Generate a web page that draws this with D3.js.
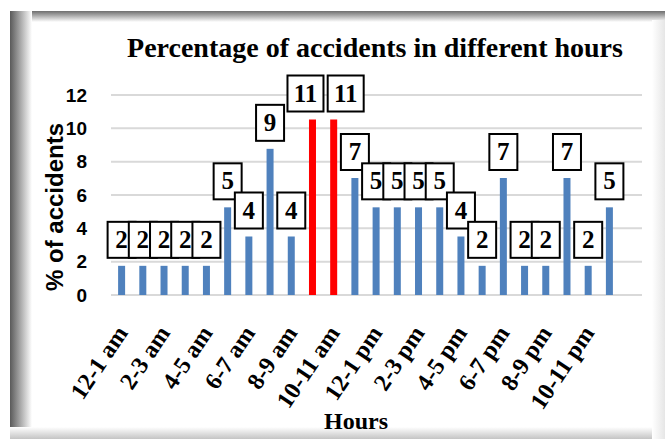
<!DOCTYPE html>
<html>
<head>
<meta charset="utf-8">
<script src="https://cdn.jsdelivr.net/npm/d3@7"></script>
<style>
  body { margin: 0; background: #fff; }
  svg { display: block; }
</style>
</head>
<body>
<div id="chart"></div>
<script>
var svgWidth = 665;
var svgHeight = 439;

// data
var hours = ["12-1 am", "1-2 am", "2-3 am", "3-4 am", "4-5 am", "5-6 am",
  "6-7 am", "7-8 am", "8-9 am", "9-10 am", "10-11 am", "11-12 am",
  "12-1 pm", "1-2 pm", "2-3 pm", "3-4 pm", "4-5 pm", "5-6 pm",
  "6-7 pm", "7-8 pm", "8-9 pm", "9-10 pm", "10-11 pm", "11-12 pm"];
var percents = [1.75, 1.75, 1.75, 1.75, 1.75, 5.26, 3.51, 8.77, 3.51, 10.53,
  10.53, 7.02, 5.26, 5.26, 5.26, 5.26, 3.51, 1.75, 7.02, 1.75, 1.75, 7.02, 1.75, 5.26];
var valueLabels = ["2", "2", "2", "2", "2", "5", "4", "9", "4", "11",
  "11", "7", "5", "5", "5", "5", "4", "2", "7", "2", "2", "7", "2", "5"];
var peakHours = ["9-10 am", "10-11 am"];
var yTicks = [0, 2, 4, 6, 8, 10, 12];

var margin = { top: 95, right: 23, bottom: 144, left: 111 };
var plotRight = svgWidth - margin.right;
var height = svgHeight - margin.top - margin.bottom;

var serif = "'Liberation Serif', 'Times New Roman', serif";
var sans = "'Liberation Sans', Arial, sans-serif";

var svg = d3.select("#chart")
  .append("svg")
  .attr("width", svgWidth)
  .attr("height", svgHeight);

// frame with soft shadow edges
var defs = svg.append("defs");
function grad(id, x2, y2, c1, c2) {
  var g = defs.append("linearGradient").attr("id", id)
    .attr("x1", 0).attr("y1", 0).attr("x2", x2).attr("y2", y2);
  g.append("stop").attr("offset", "0%").attr("stop-color", c1);
  g.append("stop").attr("offset", "100%").attr("stop-color", c2);
}
grad("gTop", 0, 1, "#6e6e6e", "#ffffff");
grad("gLeft", 1, 0, "#5a5a5a", "#ffffff");
grad("gBottom", 0, 1, "#ffffff", "#c4c4c4");
grad("gRight", 1, 0, "#ffffff", "#e6e6e6");

svg.append("rect").attr("x", 10).attr("y", 11).attr("width", 655).attr("height", 428).attr("fill", "#fff");
svg.append("rect").attr("x", 10).attr("y", 11).attr("width", 655).attr("height", 11).attr("fill", "url(#gTop)");
svg.append("rect").attr("x", 10).attr("y", 11).attr("width", 22).attr("height", 428).attr("fill", "url(#gLeft)");
svg.append("rect").attr("x", 10).attr("y", 427).attr("width", 655).attr("height", 12).attr("fill", "url(#gBottom)");
svg.append("rect").attr("x", 652).attr("y", 20).attr("width", 13).attr("height", 419).attr("fill", "url(#gRight)");

// scales
var x = d3.scaleBand()
  .domain(hours)
  .range([margin.left, 620]);

var y = d3.scaleLinear()
  .domain([0, 12])
  .range([margin.top + height, margin.top]);

// gridlines
svg.append("g")
  .selectAll("line")
  .data(yTicks)
  .enter()
  .append("line")
  .attr("x1", margin.left)
  .attr("x2", plotRight)
  .attr("y1", d => y(d))
  .attr("y2", d => y(d))
  .attr("stroke", "#d9d9d9")
  .attr("stroke-width", 2);

// y axis labels
var leftAxis = d3.axisLeft(y).tickValues(yTicks).tickSize(0).tickPadding(0);
var yAxis = svg.append("g")
  .attr("transform", `translate(87, 0)`)
  .call(leftAxis);
yAxis.select(".domain").remove();
yAxis.selectAll("text")
  .attr("font-family", sans)
  .attr("font-weight", "bold")
  .attr("font-size", "19px")
  .attr("fill", "#000");

// bars
var barW = 7;
svg.append("g")
  .selectAll("rect")
  .data(hours)
  .enter()
  .append("rect")
  .attr("x", d => x(d) + x.bandwidth() / 2 - barW / 2)
  .attr("y", (d, i) => y(percents[i]))
  .attr("width", barW)
  .attr("height", (d, i) => y(0) - y(percents[i]))
  .attr("fill", d => peakHours.indexOf(d) >= 0 ? "#ff0000" : "#4f81bd");

// value label boxes; the two peak labels get pushed apart
var nudge = { 9: -7, 10: 12 };
var labels = svg.append("g")
  .selectAll("g")
  .data(hours)
  .enter()
  .append("g")
  .attr("transform", (d, i) => {
    var cx = x(d) + x.bandwidth() / 2 + (nudge[i] || 0);
    return `translate(${cx}, ${y(percents[i]) - 8})`;
  });

labels.append("rect")
  .attr("x", (d, i) => valueLabels[i].length > 1 ? -18 : -14)
  .attr("y", -36)
  .attr("width", (d, i) => valueLabels[i].length > 1 ? 36 : 28)
  .attr("height", 36)
  .attr("fill", "#fff")
  .attr("stroke", "#000")
  .attr("stroke-width", 2);

labels.append("text")
  .attr("x", 0)
  .attr("y", -10)
  .attr("text-anchor", "middle")
  .attr("font-family", serif)
  .attr("font-weight", "bold")
  .attr("font-size", "25px")
  .text((d, i) => valueLabels[i]);

// x labels, every other hour
svg.append("g")
  .selectAll("text")
  .data(hours.filter((d, i) => i % 2 === 0))
  .enter()
  .append("text")
  .attr("transform", d => `translate(${x(d) + x.bandwidth() / 2 + 7}, 333) rotate(-56)`)
  .attr("text-anchor", "end")
  .attr("font-family", serif)
  .attr("font-weight", "bold")
  .attr("font-size", "24px")
  .text(d => d);

// titles
svg.append("text")
  .attr("x", 375)
  .attr("y", 57)
  .attr("text-anchor", "middle")
  .attr("font-family", serif)
  .attr("font-weight", "bold")
  .attr("font-size", "28px")
  .text("Percentage of accidents in different hours");

svg.append("text")
  .attr("transform", "translate(63, 207) rotate(-90)")
  .attr("text-anchor", "middle")
  .attr("font-family", sans)
  .attr("font-weight", "bold")
  .attr("font-size", "24px")
  .text("% of accidents");

svg.append("text")
  .attr("x", 356)
  .attr("y", 429)
  .attr("text-anchor", "middle")
  .attr("font-family", serif)
  .attr("font-weight", "bold")
  .attr("font-size", "24px")
  .text("Hours");
</script>
</body>
</html>
